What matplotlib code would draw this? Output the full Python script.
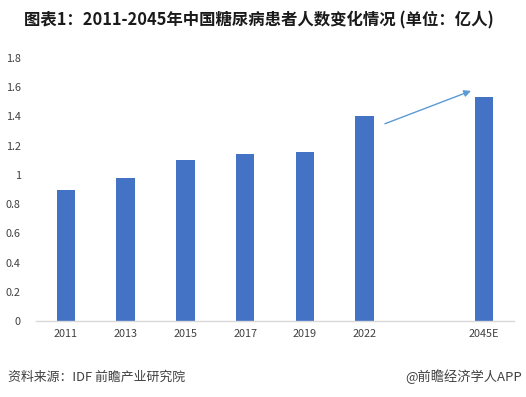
import numpy as np
import matplotlib.pyplot as plt

plt.rcParams['font.family'] = ['Noto Sans CJK SC', 'DejaVu Sans']

years = ['2011', '2013', '2015', '2017', '2019', '2022', '', '2045E']
patients = [0.90, 0.98, 1.10, 1.14, 1.16, 1.40, np.nan, 1.53]
y_ticks = [0, 0.2, 0.4, 0.6, 0.8, 1.0, 1.2, 1.4, 1.6, 1.8]
y_labels = ['0', '0.2', '0.4', '0.6', '0.8', '1', '1.2', '1.4', '1.6', '1.8']

title = '图表1：2011-2045年中国糖尿病患者人数变化情况 (单位：亿人)'
source = '资料来源：IDF 前瞻产业研究院'
brand = '@前瞻经济学人APP'

W, H = 526, 397
fig = plt.figure(figsize=(W / 100, H / 100), dpi=100)
ax = fig.add_axes([36 / W, 1 - 321 / H, 478 / W, 263 / H])

x = np.arange(len(years))
ax.bar(x, patients, width=0.31, color='#4472C4', zorder=2)

ax.set_xlim(-0.5, len(years) - 0.5)
ax.set_ylim(0, 1.8)
ax.set_xticks(x)
ax.set_xticklabels(years)
ax.set_yticks(y_ticks)
ax.set_yticklabels(y_labels)
ax.tick_params(axis='both', length=0, labelsize=7.8, colors='#404040')
ax.tick_params(axis='x', pad=6)
ax.tick_params(axis='y', pad=11)

for side in ['top', 'right', 'left']:
    ax.spines[side].set_visible(False)
ax.spines['bottom'].set_color('#D9D9D9')
ax.spines['bottom'].set_linewidth(1)

# trend arrow between 2022 and 2045E
ax.annotate('', xy=(6.78, 1.575), xytext=(5.34, 1.35),
            arrowprops=dict(arrowstyle='-|>', color='#5B9BD5', lw=1,
                            mutation_scale=10, shrinkA=0, shrinkB=0),
            annotation_clip=False)

fig.text(0.5 - 4 / W, 1 - 20 / H, title, ha='center', va='center',
         fontsize=11.8, fontweight='bold', color='#1a1a1a')
fig.text(8 / W, 1 - 377 / H, source, ha='left', va='center',
         fontsize=9.3, color='#404040')
fig.text(522 / W, 1 - 377 / H, brand, ha='right', va='center',
         fontsize=9.5, color='#404040')

fig.savefig('out.png', dpi=100)
